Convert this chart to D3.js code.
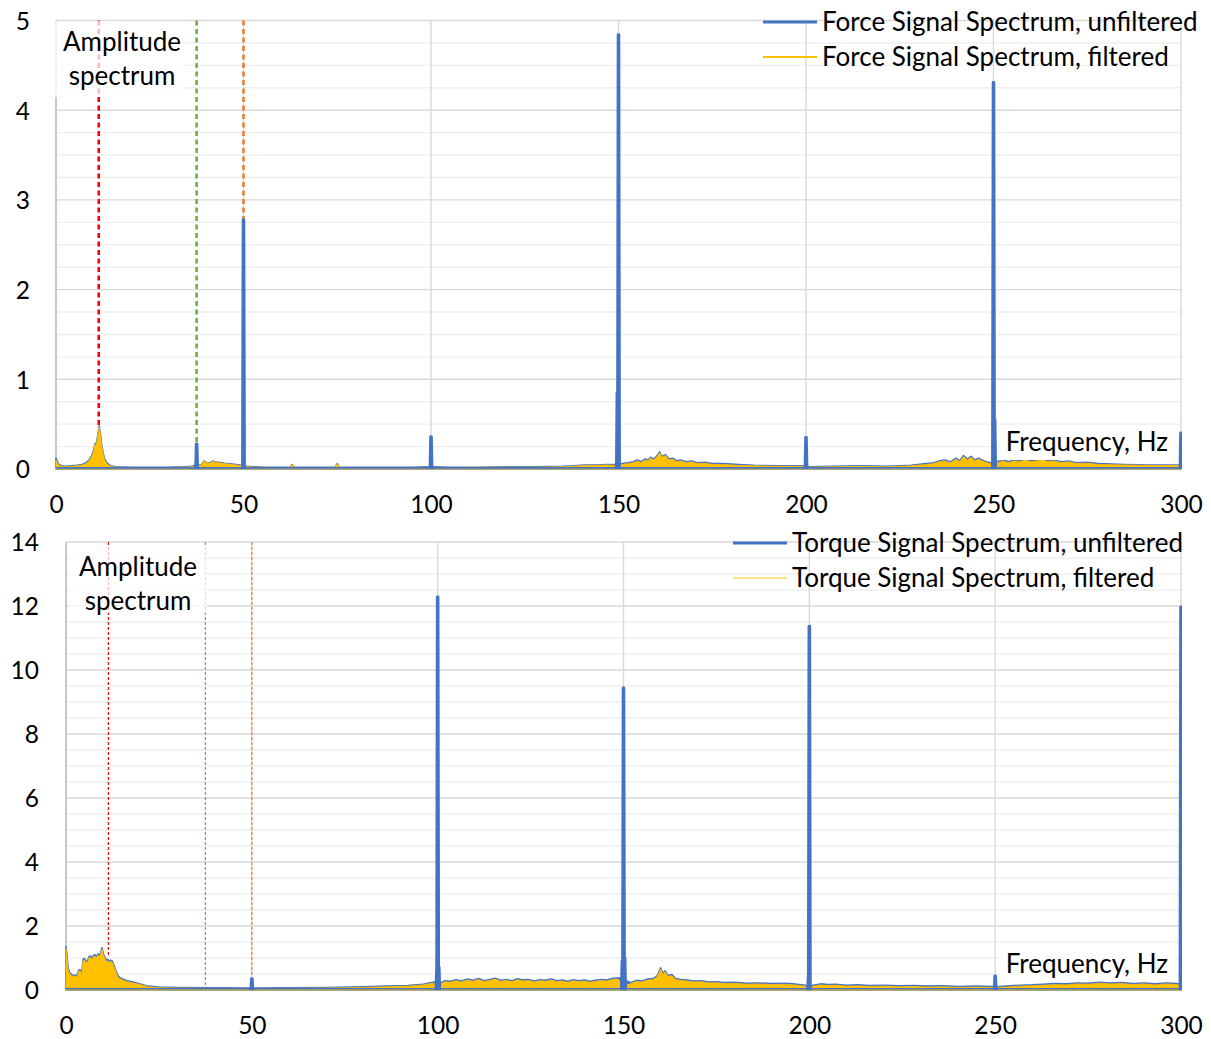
<!DOCTYPE html>
<html><head><meta charset="utf-8">
<script src="https://cdn.jsdelivr.net/npm/d3@7"></script>
<style>
body{margin:0;background:#fff}
svg{display:block}
text{font-family:Lato,"Open Sans",sans-serif;fill:#000}
</style>
</head><body>
<svg id="c" width="1211" height="1039"></svg>
<script>
// ---------- shared ----------
const xTicks = [0, 50, 100, 150, 200, 250, 300];
const xDomain = [0, 300];

// ---------- Force chart (top) ----------
const forceYTicks = [0, 1, 2, 3, 4, 5];
const forceYMax = 5;
const forceMinorStep = 0.25;
const forceLegend = ["Force Signal Spectrum, unfiltered", "Force Signal Spectrum, filtered"];
// noise floor of the spectra [frequency Hz, amplitude]
const forceUnfiltered = [[0,.12],[0.4,.08],[0.8,.05],[1.5,.035],[2.5,.03],[4,.035],[5.5,.04],[7,.05],[8,.07],[8.8,.10],[9.5,.15],[10,.20],[10.4,.28],[10.8,.29],[11.2,.39],[11.5,.48],[11.8,.41],[12.2,.26],[12.6,.17],[13,.11],[13.5,.07],[14.5,.035],[16,.025],[20,.02],[25,.02],[30,.02],[34,.025],[36,.03],[37,.04],[38,.04],[38.8,.05],[39.5,.09],[40.2,.07],[41,.065],[41.8,.09],[42.5,.075],[43.5,.075],[45,.065],[47,.055],[49,.045],[51,.03],[53,.025],[56,.02],[60,.02],[62.5,.02],[63,.05],[63.5,.02],[66,.02],[70,.02],[74.5,.02],[75,.06],[75.5,.02],[80,.02],[88,.02],[95,.02],[99,.025],[101,.025],[105,.02],[112,.02],[120,.025],[128,.025],[135,.03],[138,.035],[141,.045],[144,.045],[147,.05],[149,.05],[151,.06],[152.5,.07],[154,.08],[155,.10],[156,.08],[157,.11],[158,.10],[158.5,.13],[159.5,.11],[160.5,.16],[161,.19],[161.5,.14],[162.5,.16],[163.5,.11],[164.5,.12],[165.5,.09],[166.5,.10],[168,.08],[169.5,.09],[171,.07],[173,.075],[175,.06],[178,.06],[182,.05],[186,.04],[193,.035],[199,.035],[201,.025],[207,.03],[215,.035],[222,.03],[228,.04],[232,.06],[234,.07],[235.5,.09],[237,.10],[238.5,.08],[240,.12],[241,.09],[242,.15],[243,.11],[244,.14],[245,.10],[246,.12],[247.5,.09],[249,.07],[251,.08],[252.5,.10],[254,.08],[255.5,.10],[257,.09],[258.5,.11],[260,.09],[261.5,.10],[263,.12],[264.5,.09],[266,.10],[268,.08],[270,.09],[272,.07],[275,.075],[278,.06],[285,.05],[292,.045],[299,.045],[300,.035]];
const forceFiltered = [[0,.10],[0.4,.07],[0.8,.04],[1.5,.03],[2.5,.025],[4,.03],[5.5,.035],[7,.045],[8,.06],[8.8,.09],[9.5,.14],[10,.19],[10.4,.27],[10.8,.28],[11.2,.38],[11.5,.47],[11.8,.40],[12.2,.25],[12.6,.16],[13,.10],[13.5,.06],[14.5,.03],[16,.02],[20,.015],[25,.015],[30,.015],[34,.02],[36,.025],[37,.03],[38,.03],[38.8,.05],[39.5,.09],[40.2,.07],[41,.06],[41.8,.09],[42.5,.07],[43.5,.07],[45,.06],[47,.05],[49,.04],[51,.025],[53,.02],[56,.02],[60,.015],[62.5,.02],[63,.05],[63.5,.02],[66,.015],[70,.015],[74.5,.02],[75,.06],[75.5,.02],[80,.015],[88,.015],[95,.015],[99,.02],[101,.02],[105,.015],[112,.02],[120,.02],[128,.02],[135,.025],[138,.03],[141,.04],[144,.04],[147,.045],[149,.04],[151,.05],[152.5,.06],[154,.07],[155,.09],[156,.07],[157,.10],[158,.09],[158.5,.12],[159.5,.10],[160.5,.15],[161,.18],[161.5,.13],[162.5,.15],[163.5,.10],[164.5,.11],[165.5,.08],[166.5,.09],[168,.07],[169.5,.08],[171,.06],[173,.065],[175,.05],[178,.05],[182,.04],[186,.035],[193,.03],[199,.03],[201,.02],[207,.025],[215,.03],[222,.025],[228,.035],[232,.05],[234,.06],[235.5,.08],[237,.09],[238.5,.07],[240,.11],[241,.08],[242,.14],[243,.10],[244,.13],[245,.09],[246,.11],[247.5,.08],[249,.06],[251,.07],[252.5,.09],[254,.07],[255.5,.09],[257,.08],[258.5,.10],[260,.08],[261.5,.09],[263,.11],[264.5,.08],[266,.09],[268,.07],[270,.08],[272,.06],[275,.065],[278,.05],[285,.045],[292,.04],[299,.04],[300,.03]];
const forceUnfilteredFloor = 0.012;
// narrow spectral lines of the unfiltered signal
const forceSpikeFreq = [37.5, 50, 100, 149.7, 150, 200, 250, 250.3, 300];
const forceSpikeVal  = [0.28, 2.78, 0.36, 0.85, 4.84, 0.35, 4.31, 0.55, 0.40];
// dashed reference lines [frequency, amplitude where the line ends]
const forceMarkerFreq = [11.4, 37.5, 50];
const forceMarkerEnd  = [0.47, 0.28, 2.78];

// ---------- Torque chart (bottom) ----------
const torqueYTicks = [0, 2, 4, 6, 8, 10, 12, 14];
const torqueYMax = 14;
const torqueMinorStep = 0.5;
const torqueLegend = ["Torque Signal Spectrum, unfiltered", "Torque Signal Spectrum, filtered"];
const torqueUnfiltered = [[0,1.35],[0.3,1.05],[0.6,.66],[1,.55],[1.5,.48],[2,.45],[2.5,.47],[3,.43],[3.4,.62],[3.8,.63],[4.2,.48],[4.6,.96],[5,.98],[5.4,.88],[5.8,.92],[6.2,1.04],[6.6,1.06],[7,.99],[7.4,1.08],[7.8,1.10],[8.2,1.04],[8.6,1.13],[9,1.08],[9.4,1.18],[9.7,1.32],[10,1.14],[10.4,1.04],[10.8,.92],[11.2,.96],[11.6,.89],[12,.93],[12.5,.90],[13,.74],[13.5,.58],[14,.44],[15,.35],[16.5,.29],[18,.25],[20,.19],[22,.12],[25,.09],[30,.08],[40,.07],[49,.06],[51,.06],[60,.07],[70,.08],[80,.10],[86,.12],[92,.14],[96,.18],[99,.25],[100,.2],[101,.23],[102,.29],[103.5,.27],[105,.32],[106.5,.28],[108,.34],[109.5,.30],[111,.36],[112.5,.29],[114,.33],[115.5,.37],[117,.30],[118.5,.33],[120,.29],[121.5,.35],[123,.31],[124.5,.33],[126,.28],[127.5,.32],[129,.30],[130.5,.34],[132,.29],[133.5,.31],[135,.27],[136.5,.32],[138,.29],[139.5,.31],[141,.27],[142.5,.30],[144,.33],[145.5,.31],[147,.36],[148.5,.38],[149.5,.35],[150,.1],[150.5,.3],[152,.23],[153.5,.30],[155,.28],[156.5,.34],[158,.36],[159,.43],[159.6,.58],[160,.69],[160.6,.51],[161.2,.60],[162,.45],[163,.48],[164,.36],[165.5,.33],[167,.31],[169,.28],[171,.29],[173,.25],[175,.26],[177,.23],[180,.24],[183,.21],[186,.22],[190,.20],[193,.21],[196,.19],[199,.15],[200,.1],[201,.15],[203,.19],[205,.17],[207,.18],[210,.15],[213,.16],[216,.14],[220,.15],[224,.13],[228,.14],[232,.12],[236,.13],[240,.11],[245,.12],[249,.11],[251,.11],[254,.13],[257,.15],[260,.16],[263,.18],[266,.20],[269,.19],[272,.22],[275,.21],[278,.24],[281,.22],[284,.23],[287,.20],[290,.22],[293,.19],[296,.22],[299,.20],[300,.18]];
const torqueFiltered = [[0,1.30],[0.3,1.0],[0.6,.62],[1,.5],[1.5,.45],[2,.42],[2.5,.44],[3,.40],[3.4,.58],[3.8,.60],[4.2,.45],[4.6,.92],[5,.94],[5.4,.85],[5.8,.88],[6.2,1.00],[6.6,1.02],[7,.95],[7.4,1.05],[7.8,1.06],[8.2,1.0],[8.6,1.10],[9,1.05],[9.4,1.15],[9.7,1.28],[10,1.10],[10.4,1.00],[10.8,.88],[11.2,.92],[11.6,.85],[12,.90],[12.5,.86],[13,.70],[13.5,.55],[14,.40],[15,.32],[16.5,.26],[18,.22],[20,.17],[22,.10],[25,.07],[30,.06],[40,.05],[49,.05],[51,.05],[60,.05],[70,.06],[80,.08],[86,.10],[92,.12],[96,.16],[99,.22],[100,.05],[101,.20],[102,.26],[103.5,.24],[105,.29],[106.5,.25],[108,.31],[109.5,.27],[111,.33],[112.5,.26],[114,.30],[115.5,.34],[117,.27],[118.5,.30],[120,.26],[121.5,.32],[123,.28],[124.5,.30],[126,.25],[127.5,.29],[129,.27],[130.5,.31],[132,.26],[133.5,.28],[135,.24],[136.5,.29],[138,.26],[139.5,.28],[141,.24],[142.5,.27],[144,.30],[145.5,.28],[147,.33],[148.5,.35],[149.5,.20],[150,.03],[150.5,.15],[152,.20],[153.5,.27],[155,.25],[156.5,.31],[158,.33],[159,.40],[159.6,.55],[160,.66],[160.6,.48],[161.2,.57],[162,.42],[163,.45],[164,.33],[165.5,.30],[167,.28],[169,.25],[171,.26],[173,.22],[175,.23],[177,.20],[180,.21],[183,.18],[186,.19],[190,.17],[193,.18],[196,.16],[199,.12],[200,.05],[201,.12],[203,.16],[205,.14],[207,.15],[210,.12],[213,.13],[216,.11],[220,.12],[224,.10],[228,.11],[232,.09],[236,.10],[240,.08],[245,.09],[249,.08],[251,.08],[254,.10],[257,.12],[260,.13],[263,.15],[266,.17],[269,.16],[272,.19],[275,.18],[278,.21],[281,.19],[284,.20],[287,.17],[290,.19],[293,.16],[296,.19],[299,.17],[300,.15]];
const torqueUnfilteredFloor = 0.04;
const torqueSpikeFreq = [50, 99.8, 100, 100.3, 149.7, 150, 150.3, 199.8, 200, 250, 300];
const torqueSpikeVal  = [0.35, 0.6, 12.28, 0.7, 0.9, 9.44, 1.0, 0.4, 11.37, 0.44, 11.97];
const torqueMarkerFreq = [11.4, 37.5, 50];
const torqueMarkerEnd  = [1.05, 0.05, 0.35];

const annotation = ["Amplitude", "spectrum"];
const xTitle = "Frequency, Hz";

// ---------- styles ----------
const BLUE = "#4472c4", YELLOW = "#ffc000";
const markerColors = ["#ff0000", "#70ad47", "#ed7d31"];

const svg = d3.select("#c");

function drawChart(cfg) {
  const g = svg.append("g");
  const x = d3.scaleLinear().domain(xDomain).range([cfg.left, cfg.right]);
  const y = d3.scaleLinear().domain([0, cfg.yMax]).range([cfg.bottom, cfg.top]);

  const clipId = "clip" + cfg.id;
  svg.append("clipPath").attr("id", clipId).append("rect")
    .attr("x", cfg.left - 1).attr("y", cfg.top - 2)
    .attr("width", cfg.right - cfg.left + 2).attr("height", cfg.bottom - cfg.top + 4);

  // minor gridlines
  const minor = d3.range(0, cfg.yMax + 1e-9, cfg.minorStep).filter(v => !cfg.yTicks.includes(v));
  g.append("g").selectAll("line").data(minor).join("line")
    .attr("x1", cfg.left).attr("x2", cfg.right)
    .attr("y1", d => y(d)).attr("y2", d => y(d))
    .attr("stroke", "#efefef").attr("stroke-width", 1.4);
  // major gridlines
  g.append("g").selectAll("line").data(cfg.yTicks.filter(v => v > 0)).join("line")
    .attr("x1", cfg.left).attr("x2", cfg.right)
    .attr("y1", d => y(d)).attr("y2", d => y(d))
    .attr("stroke", "#d9d9d9").attr("stroke-width", 1.4);
  // vertical gridlines
  g.append("g").selectAll("line").data(xTicks.filter(v => v > 0)).join("line")
    .attr("x1", d => x(d)).attr("x2", d => x(d))
    .attr("y1", cfg.top).attr("y2", cfg.bottom)
    .attr("stroke", "#d9d9d9").attr("stroke-width", 1.4);
  // left axis line
  g.append("line").attr("x1", cfg.left).attr("x2", cfg.left)
    .attr("y1", cfg.top).attr("y2", cfg.bottom)
    .attr("stroke", "#c8c8c8").attr("stroke-width", 2);

  // axes labels
  const xa = d3.axisBottom(x).tickValues(xTicks).tickSize(0).tickPadding(0).tickFormat(d3.format("d"));
  const xg = g.append("g").attr("transform", `translate(0,${cfg.bottom + cfg.xLabelOffset})`).call(xa);
  xg.select(".domain").remove();
  xg.selectAll("text").attr("font-size", 24.5).attr("font-family", "Lato").attr("fill", "#000").attr("dy", 0).attr("y", 0);

  const ya = d3.axisLeft(y).tickValues(cfg.yTicks).tickSize(0).tickPadding(0).tickFormat(d3.format("d"));
  const yg = g.append("g").attr("transform", `translate(${cfg.left - cfg.yLabelGap},0)`).call(ya);
  yg.select(".domain").remove();
  yg.selectAll("text").attr("font-size", 24.5).attr("font-family", "Lato").attr("fill", "#000").attr("dy", "0.36em").attr("x", 0);

  // dashed reference lines
  g.append("g").selectAll("line").data(cfg.markerFreq).join("line")
    .attr("x1", d => x(d)).attr("x2", d => x(d))
    .attr("y1", cfg.top).attr("y2", (d, i) => y(cfg.markerEnd[i]))
    .attr("stroke", (d, i) => markerColors[i])
    .attr("stroke-width", cfg.markerWidth)
    .attr("stroke-dasharray", cfg.markerDash);

  const plot = g.append("g").attr("clip-path", `url(#${clipId})`);

  // unfiltered noise floor (blue)
  const area = d3.area().x(d => x(d[0])).y0(y(0)).y1(d => y(d[1]));
  plot.append("path").datum(cfg.unfiltered).attr("d", area)
    .attr("fill", BLUE).attr("stroke", BLUE).attr("stroke-width", 1.6).attr("stroke-linejoin", "round");
  // filtered (yellow)
  plot.append("path").datum(cfg.filtered).attr("d", area)
    .attr("fill", YELLOW).attr("stroke", YELLOW).attr("stroke-width", 0.8);
  // blue floor line of unfiltered
  plot.append("line").attr("x1", x(0)).attr("x2", x(300))
    .attr("y1", y(cfg.floor)).attr("y2", y(cfg.floor))
    .attr("stroke", BLUE).attr("stroke-width", 1.6);
  // spectral lines (narrow, flat-topped peaks)
  const spikes = cfg.spikeFreq.map((f, i) => [f, cfg.spikeVal[i]]);
  const spikeLine = d3.line().x(d => x(d[0])).y(d => y(d[1]));
  plot.append("g").selectAll("path").data(spikes).join("path")
    .attr("d", d => spikeLine([[d[0] - 0.25, 0], [d[0] - 0.08, d[1]], [d[0] + 0.08, d[1]], [d[0] + 0.25, 0]]))
    .attr("fill", BLUE).attr("stroke", BLUE).attr("stroke-width", 3).attr("stroke-linejoin", "round");

  // annotation box + text
  g.append("rect").attr("x", cfg.annBox[0]).attr("y", cfg.annBox[1])
    .attr("width", cfg.annBox[2]).attr("height", cfg.annBox[3])
    .attr("fill", "#fff").attr("opacity", 0.72);
  g.append("g").selectAll("text").data(annotation).join("text")
    .attr("x", cfg.annX).attr("y", (d, i) => cfg.annY + i * 34)
    .attr("text-anchor", "middle").attr("font-size", 26).text(d => d);

  // x title with white box
  g.append("rect").attr("x", cfg.xtBox[0]).attr("y", cfg.xtBox[1])
    .attr("width", cfg.xtBox[2]).attr("height", cfg.xtBox[3]).attr("fill", "#fff");
  g.append("text").attr("x", cfg.xtX).attr("y", cfg.xtY)
    .attr("text-anchor", "end").attr("font-size", 26).text(xTitle);

  // legend
  const lg = g.append("g");
  lg.selectAll("line").data(cfg.legend).join("line")
    .attr("x1", cfg.legX).attr("x2", cfg.legX + 54)
    .attr("y1", (d, i) => cfg.legY + i * 35).attr("y2", (d, i) => cfg.legY + i * 35)
    .attr("stroke", (d, i) => i === 0 ? BLUE : YELLOW)
    .attr("stroke-width", (d, i) => i === 0 ? 3.2 : cfg.legYellowW);
  lg.selectAll("text").data(cfg.legend).join("text")
    .attr("x", cfg.legX + 59).attr("y", (d, i) => cfg.legY + i * 35 + 9)
    .attr("font-size", 26).text(d => d);
}

drawChart({
  id: "F", left: 56, right: 1181, top: 20.5, bottom: 469,
  yMax: forceYMax, yTicks: forceYTicks, minorStep: forceMinorStep,
  xLabelOffset: 44, yLabelGap: 26,
  unfiltered: forceUnfiltered, filtered: forceFiltered, floor: forceUnfilteredFloor,
  spikeFreq: forceSpikeFreq, spikeVal: forceSpikeVal,
  markerFreq: forceMarkerFreq, markerEnd: forceMarkerEnd, markerWidth: 2.6, markerDash: "5,3.5",
  annBox: [55, 21, 130, 76], annX: 122, annY: 51,
  xtBox: [1000, 427, 176, 33], xtX: 1168, xtY: 451,
  legend: forceLegend, legX: 763, legY: 22, legYellowW: 2.2
});

drawChart({
  id: "T", left: 66, right: 1181, top: 542, bottom: 990,
  yMax: torqueYMax, yTicks: torqueYTicks, minorStep: torqueMinorStep,
  xLabelOffset: 44, yLabelGap: 27,
  unfiltered: torqueUnfiltered, filtered: torqueFiltered, floor: torqueUnfilteredFloor,
  spikeFreq: torqueSpikeFreq, spikeVal: torqueSpikeVal,
  markerFreq: torqueMarkerFreq, markerEnd: torqueMarkerEnd, markerWidth: 1.2, markerDash: "3,2",
  annBox: [69, 545, 138, 68], annX: 138, annY: 576,
  xtBox: [1000, 948, 176, 33], xtX: 1168, xtY: 973,
  legend: torqueLegend, legX: 733, legY: 543, legYellowW: 1.2
});
</script>
</body></html>
